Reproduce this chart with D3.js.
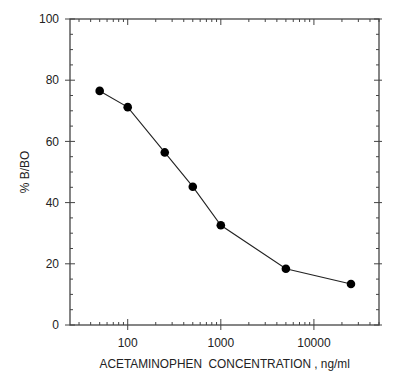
<!DOCTYPE html>
<html><head><meta charset="utf-8">
<script src="https://cdn.jsdelivr.net/npm/d3@7"></script>
<style>body{margin:0;background:#fff}svg{display:block}text{font-family:"Liberation Sans",Arial,sans-serif;fill:#222}</style>
</head><body>
<script>
const concentrations = [50, 100, 250, 500, 1000, 5000, 25000];
const percentBB0 = [76.5, 71.2, 56.4, 45.2, 32.6, 18.4, 13.4];
const yTickLabels = [0, 20, 40, 60, 80, 100];
const xTickLabels = [100, 1000, 10000];
const xLabel = "ACETAMINOPHEN  CONCENTRATION , ng/ml";
const yLabel = "% B/BO";

const W = 400, H = 390;
const L = 70, R = 379, T = 19, B = 325;
const svg = d3.select("body").append("svg").attr("width", W).attr("height", H);
const x = d3.scaleLog().domain([24, 50000]).range([L, R]);
const y = d3.scaleLinear().domain([0, 100]).range([B, T]);
const axisColor = "#444";

svg.append("rect").attr("x", L).attr("y", T).attr("width", R - L).attr("height", B - T)
  .attr("fill", "none").attr("stroke", axisColor).attr("stroke-width", 1.3);

const minorX = [];
for (let d = 10; d <= 10000; d *= 10) for (let k = 1; k < 10; k++) { const v = d * k; if (v >= 24 && v <= 50000) minorX.push(v); }
const g = svg.append("g").attr("stroke", axisColor).attr("stroke-width", 1);
minorX.forEach(v => {
  const major = xTickLabels.includes(v);
  const xx = x(v);
  g.append("line").attr("x1", xx).attr("x2", xx).attr("y1", B + (major ? 5 : 0)).attr("y2", B - (major ? 6 : 3));
  g.append("line").attr("x1", xx).attr("x2", xx).attr("y1", T).attr("y2", T + (major ? 6 : 3));
});
for (let v = 0; v <= 100; v += 5) {
  const major = v % 20 === 0;
  const yy = y(v);
  g.append("line").attr("x1", L - (major ? 5 : 0)).attr("x2", L + (major ? 5 : 3)).attr("y1", yy).attr("y2", yy);
  g.append("line").attr("x1", R + (major ? 3 : 0)).attr("x2", R - (major ? 5 : 3)).attr("y1", yy).attr("y2", yy);
}
svg.selectAll(".yl").data(yTickLabels).enter().append("text")
  .attr("x", L - 11).attr("y", d => y(d)).attr("dy", "0.35em").attr("text-anchor", "end")
  .attr("font-size", 12).text(d => d);
svg.selectAll(".xl").data(xTickLabels).enter().append("text")
  .attr("x", d => x(d)).attr("y", B + 22).attr("text-anchor", "middle")
  .attr("font-size", 12).text(d => d);
svg.append("text").attr("x", 224.7).attr("y", 368).attr("text-anchor", "middle")
  .attr("font-size", 11.85).attr("xml:space", "preserve").style("white-space", "pre").text(xLabel);
svg.append("text").attr("transform", `translate(28.5,${(T + B) / 2}) rotate(-90)`)
  .attr("text-anchor", "middle").attr("font-size", 12).text(yLabel);

const pts = concentrations.map((c, i) => [c, percentBB0[i]]);
svg.append("path").datum(pts).attr("fill", "none").attr("stroke", "#222").attr("stroke-width", 1.1)
  .attr("d", d3.line().x(d => x(d[0])).y(d => y(d[1])));
svg.selectAll("circle").data(pts).enter().append("circle")
  .attr("cx", d => x(d[0])).attr("cy", d => y(d[1])).attr("r", 4.3).attr("fill", "#000");
</script>
</body></html>
